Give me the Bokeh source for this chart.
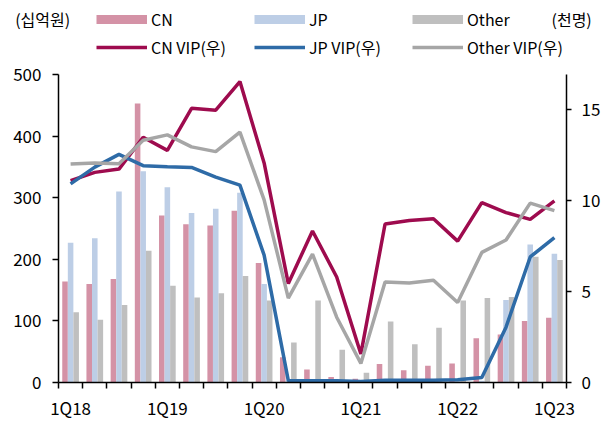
from bokeh.plotting import figure
from bokeh.layouts import column
from bokeh.models import (Range1d, LinearAxis, FixedTicker, Legend, LegendItem,
                          Label, ColumnDataSource)
from bokeh.transform import dodge
from bokeh.embed import file_html
from bokeh.resources import INLINE

quarters = ["1Q18", "2Q18", "3Q18", "4Q18", "1Q19", "2Q19", "3Q19", "4Q19",
            "1Q20", "2Q20", "3Q20", "4Q20", "1Q21", "2Q21", "3Q21", "4Q21",
            "1Q22", "2Q22", "3Q22", "4Q22", "1Q23"]
tick_labels = ["1Q18", "1Q19", "1Q20", "1Q21", "1Q22", "1Q23"]

# bars (left axis, 십억원)
cn_sales = [164, 160, 168, 453, 271, 257, 255, 279, 194, 41, 21, 9, 6, 30, 20,
            27, 31, 72, 78, 100, 105]
jp_sales = [227, 234, 310, 343, 317, 275, 282, 308, 160, 3, 2, 2, 2, 2, 2, 2,
            2, 3, 134, 224, 209]
other_sales = [114, 102, 126, 214, 157, 138, 145, 173, 133, 65, 133, 53, 16, 99,
               62, 89, 133, 137, 139, 204, 199]

# lines (right axis, 천명)
cn_vip = [11.1, 11.55, 11.73, 13.48, 12.76, 15.07, 14.97, 16.54, 12.07, 5.44,
          8.33, 5.8, 1.57, 8.71, 8.9, 9.0, 7.77, 9.89, 9.34, 8.97, 9.98]
jp_vip = [10.92, 11.84, 12.54, 11.92, 11.86, 11.82, 11.29, 10.85, 7.0, 0.1,
          0.1, 0.1, 0.05, 0.12, 0.12, 0.13, 0.15, 0.28, 3.04, 6.9, 7.96]
other_vip = [12.01, 12.07, 12.03, 13.32, 13.61, 12.95, 12.69, 13.76, 10.04, 4.64,
             7.06, 3.59, 1.05, 5.52, 5.47, 5.62, 4.4, 7.15, 7.83, 9.86, 9.45]

unit_left, unit_right = "(십억원)", "(천명)"
left_max, right_max = 500, 16.93

FONT = "Noto Sans CJK KR"
C_CN, C_JP, C_OT = "#D492A6", "#BDCEE6", "#BFBFBF"
L_CN, L_JP, L_OT = "#9E0B4E", "#2E6BA7", "#A6A6A6"
LW = 3.5

n = len(quarters)
src = ColumnDataSource(dict(
    x=[i + 0.5 for i in range(n)], q=quarters,
    cn=cn_sales, jp=jp_sales, other=other_sales,
    cn_vip=cn_vip, jp_vip=jp_vip, other_vip=other_vip))

HEAD_H = 60
W, H = 606, 423

# ---------------- header strip: units + legend ----------------
head = figure(width=W, height=HEAD_H, output_backend="svg", toolbar_location=None,
              x_range=Range1d(0, 1), y_range=Range1d(-2, -1),
              x_axis_location=None, y_axis_location=None,
              min_border_left=0, min_border_right=0, min_border_top=0,
              min_border_bottom=0)
head.outline_line_color = None
head.grid.visible = False
head.background_fill_color = "white"
head.border_fill_color = "white"

# legend proxies (data lies outside the strip's ranges, so only the legend shows)
h_cn = head.line("x", "cn", source=src, line_width=9, line_color=C_CN, line_cap="butt")
h_jp = head.line("x", "jp", source=src, line_width=9, line_color=C_JP, line_cap="butt")
h_ot = head.line("x", "other", source=src, line_width=9, line_color=C_OT, line_cap="butt")
h_vcn = head.line("x", "cn_vip", source=src, line_width=LW, line_color=L_CN)
h_vjp = head.line("x", "jp_vip", source=src, line_width=LW, line_color=L_JP)
h_vot = head.line("x", "other_vip", source=src, line_width=LW, line_color=L_OT)

legend = Legend(items=[
    LegendItem(label="CN", renderers=[h_cn]),
    LegendItem(label="JP", renderers=[h_jp]),
    LegendItem(label="Other", renderers=[h_ot]),
    LegendItem(label="CN VIP(우)", renderers=[h_vcn]),
    LegendItem(label="JP VIP(우)", renderers=[h_vjp]),
    LegendItem(label="Other VIP(우)", renderers=[h_vot]),
], orientation="horizontal", ncols=3, location=(96, 1.5),
    glyph_width=51, glyph_height=24, label_height=24, label_standoff=4,
    label_width=99, spacing=4, padding=0, margin=0, border_line_color=None,
    background_fill_alpha=0, label_text_font=FONT, label_text_font_size="16px",
    label_text_color="black")
head.add_layout(legend, "center")

for txt, xpos in ((unit_left, 14.7), (unit_right, 551)):
    head.add_layout(Label(x=xpos, y=HEAD_H - 18.5, x_units="screen",
                          y_units="screen", text=txt, text_font=FONT,
                          text_font_size="16px", text_baseline="middle",
                          text_color="black"))

# ---------------- main chart ----------------
p = figure(width=W, height=H - HEAD_H, output_backend="svg", toolbar_location=None,
           x_range=Range1d(0, n), y_range=Range1d(0, left_max),
           min_border_left=58, min_border_right=40, min_border_top=74 - HEAD_H,
           min_border_bottom=41)
p.extra_y_ranges = {"right": Range1d(0, right_max)}
p.outline_line_color = None
p.xgrid.visible = False
p.ygrid.visible = False
p.background_fill_color = "white"
p.border_fill_color = "white"

# keep the header's frame independent of the chart's frame
for fig in (head, p):
    if "frame_align" in fig.properties():
        fig.frame_align = False

w = 0.23
p.vbar(x=dodge("x", -w, range=p.x_range), top="cn", width=w, source=src,
       fill_color=C_CN, line_color=None)
p.vbar(x="x", top="jp", width=w, source=src, fill_color=C_JP, line_color=None)
p.vbar(x=dodge("x", w, range=p.x_range), top="other", width=w, source=src,
       fill_color=C_OT, line_color=None)

p.line("x", "cn_vip", source=src, y_range_name="right", line_width=LW,
       line_color=L_CN)
p.line("x", "jp_vip", source=src, y_range_name="right", line_width=LW,
       line_color=L_JP)
p.line("x", "other_vip", source=src, y_range_name="right", line_width=LW,
       line_color=L_OT)

xa = p.xaxis[0]
xa.ticker = FixedTicker(ticks=[quarters.index(t) + 0.5 for t in tick_labels],
                        minor_ticks=list(range(n + 1)))
xa.major_label_overrides = {quarters.index(t) + 0.5: t for t in tick_labels}
xa.major_tick_out = 0
xa.major_tick_in = 0
xa.minor_tick_out = 6
xa.minor_tick_in = 0
xa.major_label_standoff = 6

ya = p.yaxis[0]
ya.ticker = FixedTicker(ticks=[0, 100, 200, 300, 400, 500])
ya.major_tick_out = 6
ya.major_tick_in = 0
ya.major_label_standoff = 11

yr = LinearAxis(y_range_name="right", ticker=FixedTicker(ticks=[0, 5, 10, 15]))
yr.major_tick_out = 5
yr.major_tick_in = 0
yr.major_label_standoff = 10
p.add_layout(yr, "right")

for ax in (xa, ya, yr):
    ax.axis_line_color = "black"
    ax.axis_line_width = 1.5
    ax.major_tick_line_color = "black"
    ax.major_tick_line_width = 1.5
    ax.minor_tick_line_color = "black"
    ax.minor_tick_line_width = 1.5
    ax.major_label_text_font = FONT
    ax.major_label_text_font_size = "17px"
    ax.major_label_text_color = "black"

layout = column(head, p, spacing=0)
open("out.html", "w").write(file_html(layout, INLINE))
